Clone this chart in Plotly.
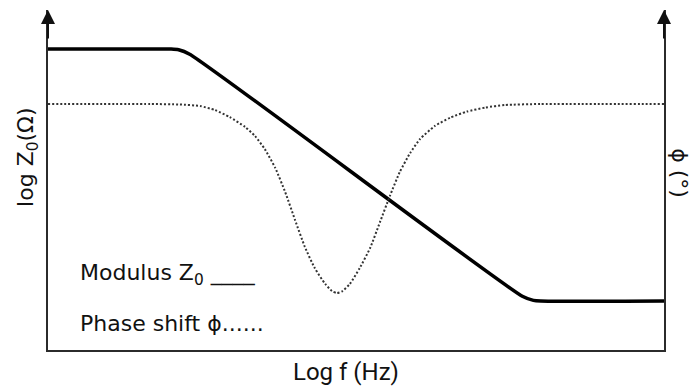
import plotly.graph_objects as go

# Impedance modulus (log scale, arbitrary units) vs log frequency
log_f_mod = [0.0, 2.0, 2.12, 2.3, 7.7, 7.88, 8.0, 10.0]
log_z_mod = [8.85, 8.85, 8.83, 8.70, 1.58, 1.46, 1.44, 1.44]

# Phase shift (degrees) vs log frequency
log_f_phase = [0.0, 1.66, 2.14, 2.47, 2.71, 2.95, 3.20, 3.36, 3.52, 3.69, 3.85,
               4.01, 4.17, 4.33, 4.50, 4.61, 4.69, 4.77, 4.90, 5.06, 5.23, 5.39,
               5.55, 5.71, 5.88, 6.04, 6.28, 6.53, 6.80, 7.10, 7.42, 7.99, 10.0]
phase_deg = [0.0, 0.0, -0.2, -0.8, -2.4, -5.2, -9.1, -12.7, -17.9, -25.4, -34.9,
             -46.0, -56.7, -65.1, -71.4, -74.2, -75.0, -74.4, -71.4, -65.1, -57.1, -46.8,
             -36.5, -27.0, -19.4, -13.9, -8.7, -5.4, -3.0, -1.4, -0.4, 0.0, 0.0]

AXIS_COLOR = "#2b2b2b"
FONT = "DejaVu Sans"

fig = go.Figure()
fig.add_trace(go.Scatter(
    x=log_f_mod, y=log_z_mod, mode="lines",
    line=dict(color="#000000", width=3.5, shape="spline", smoothing=0.6),
    hoverinfo="skip", showlegend=False,
))
fig.add_trace(go.Scatter(
    x=log_f_phase, y=phase_deg, mode="lines", yaxis="y2",
    line=dict(color="#333333", width=2, dash="2px,2px", shape="spline", smoothing=0.5),
    hoverinfo="skip", showlegend=False,
))

axis_common = dict(showgrid=False, zeroline=False, showticklabels=False,
                   ticks="", showline=True, linecolor=AXIS_COLOR, linewidth=2)

fig.update_layout(
    width=697, height=389,
    margin=dict(l=48, r=33, t=10, b=39),
    paper_bgcolor="white", plot_bgcolor="white",
    xaxis=dict(range=[0, 10], **axis_common),
    yaxis=dict(range=[0, 10], **axis_common),
    yaxis2=dict(range=[-97.6, 37.3], overlaying="y", side="right", **axis_common),
    font=dict(family=FONT, color="#111111"),
)

# Arrow heads on both vertical axes
for xpos in (0, 1):
    fig.add_annotation(x=xpos, y=1, xref="paper", yref="paper", text="",
                       showarrow=True, ax=0, ay=30, axref="pixel", ayref="pixel",
                       arrowhead=2, arrowsize=1.4, arrowwidth=2,
                       arrowcolor="#111111", standoff=0, startstandoff=0)

# Axis titles
fig.add_annotation(x=0, y=0.565, xref="paper", yref="paper", xshift=-20,
                   text="log Z<sub>0</sub>(Ω)", textangle=-90, showarrow=False,
                   xanchor="center", yanchor="middle",
                   font=dict(family=FONT, size=22, color="#111111"))
fig.add_annotation(x=1.0, y=0.52, xref="paper", yref="paper", xshift=16,
                   text="ϕ (°)", textangle=90, showarrow=False,
                   xanchor="center", yanchor="middle",
                   font=dict(family=FONT, size=22, color="#111111"))
fig.add_annotation(x=0.483, y=0, xref="paper", yref="paper", yshift=-22,
                   text="Log f (Hz)", showarrow=False,
                   xanchor="center", yanchor="middle",
                   font=dict(family="Roboto", size=24, color="#111111"))

# Legend text
fig.add_annotation(x=0.049, y=(350 - 274) / 340, xref="paper", yref="paper",
                   text="Modulus Z<sub>0</sub> ____", showarrow=False,
                   xanchor="left", yanchor="middle",
                   font=dict(family=FONT, size=22, color="#111111"))
fig.add_annotation(x=0.049, y=(350 - 323) / 340, xref="paper", yref="paper",
                   text="Phase shift ϕ......", showarrow=False,
                   xanchor="left", yanchor="middle",
                   font=dict(family=FONT, size=22, color="#111111"))

fig.write_html("out.html")
